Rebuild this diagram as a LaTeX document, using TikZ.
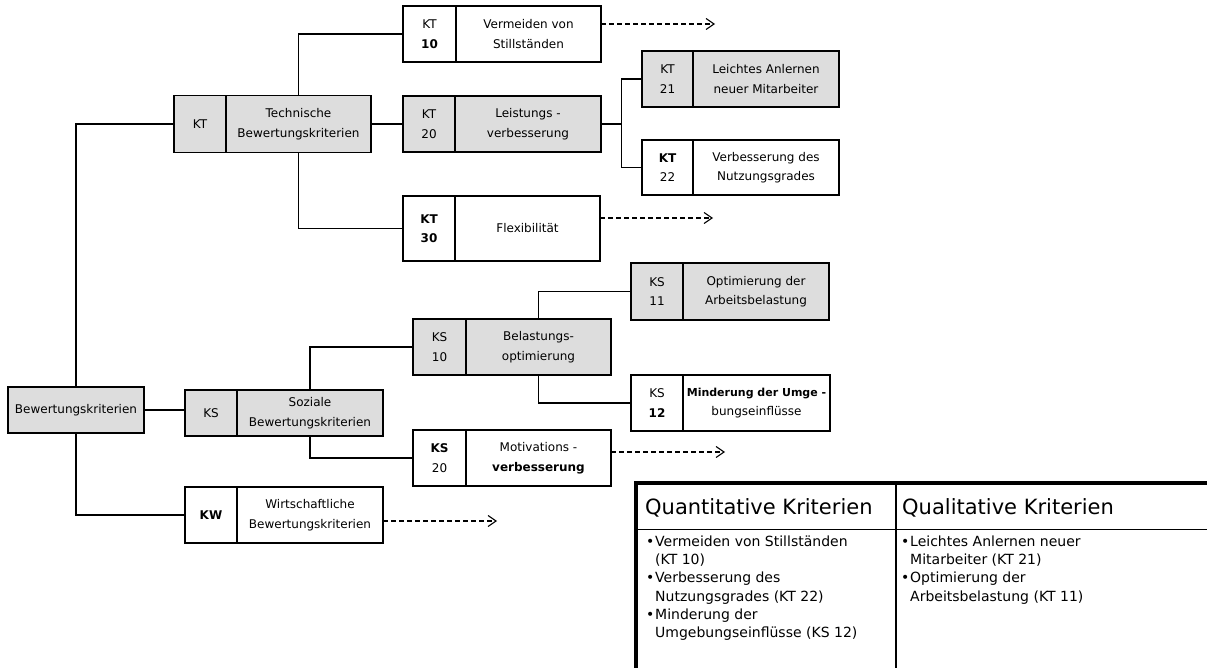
\documentclass[tikz,border=0pt]{standalone}
\usepackage{fontspec}
\setmainfont{DejaVu Sans}
\usepackage{tikz}
\usetikzlibrary{arrows.meta,positioning,calc}
\definecolor{BoxGray}{RGB}{221,221,221}

\begin{document}
\begin{tikzpicture}[
  x=1pt, y=-1pt,
  cell/.style={
    draw,
    line width=1.3pt,
    outer sep=0pt,
    inner sep=1pt,
    minimum height=56pt,
    align=center,
    font=\fontsize{12}{19.5}\selectfont
  },
  idcell/.style={cell, minimum width=52pt, anchor=west},
  txtcell/.style={cell, minimum width=146pt},
  graybox/.style={fill=BoxGray},
  link/.style={line width=1.1pt},
  fwd/.style={-{Straight Barb[length=8pt,width=11pt]}, dash pattern=on 5pt off 3pt, line width=1.1pt},
  hdr/.style={font=\fontsize{21}{25}\selectfont, inner sep=0pt, anchor=base west},
  body/.style={font=\fontsize{14}{18.3}\selectfont, inner sep=0pt, anchor=north west, align=left},
  tabrule/.style={line width=1.5pt}
]
\useasboundingbox (0,0) rectangle (1207,668);

% Root
\node[cell, graybox, minimum width=136pt, minimum height=46pt, anchor=west] (root) at (8,410) {Bewertungskriterien};

% Main groups
\node[idcell, graybox, minimum height=57pt] (kt) at (174,124) {KT};
\node[txtcell, graybox, minimum height=57pt, minimum width=145pt, right=0pt of kt] (ktt) {Technische\\Bewertungskriterien};

\node[idcell, graybox, minimum height=46pt] (ks) at (185,413) {KS};
\node[txtcell, graybox, minimum height=46pt, right=0pt of ks] (kst) {Soziale\\Bewertungskriterien};

\node[idcell] (kw) at (185,515) {\textbf{KW}};
\node[txtcell, right=0pt of kw] (kwt) {Wirtschaftliche\\Bewertungskriterien};

% Technical criteria
\node[idcell, minimum width=53pt] (kt10) at (403,34) {KT\\\textbf{10}};
\node[txtcell, minimum width=145pt, right=0pt of kt10] (kt10t) {Vermeiden von\\Stillständen};

\node[idcell, graybox] (kt20) at (403,124) {KT\\20};
\node[txtcell, graybox, right=0pt of kt20] (kt20t) {Leistungs -\\verbesserung};

\node[idcell, minimum height=65pt] (kt30) at (403,228.5) {\textbf{KT}\\\textbf{30}};
\node[txtcell, minimum height=65pt, minimum width=145pt, right=0pt of kt30] (kt30t) {Flexibilität};

\node[idcell, graybox, minimum width=51pt] (kt21) at (642,79) {KT\\21};
\node[txtcell, graybox, right=0pt of kt21] (kt21t) {Leichtes Anlernen\\neuer Mitarbeiter};

\node[idcell, minimum width=51pt, minimum height=55pt] (kt22) at (642,167.5) {\textbf{KT}\\22};
\node[txtcell, minimum height=55pt, right=0pt of kt22] (kt22t) {Verbesserung des\\Nutzungsgrades};

% Social criteria
\node[idcell, graybox, minimum width=53pt] (ks10) at (413,347) {KS\\10};
\node[txtcell, graybox, minimum width=145pt, right=0pt of ks10] (ks10t) {Belastungs-\\optimierung};

\node[idcell, minimum width=53pt] (ks20) at (413,458) {\textbf{KS}\\20};
\node[txtcell, minimum width=145pt, right=0pt of ks20] (ks20t) {Motivations -\\\textbf{verbesserung}};

\node[idcell, graybox, minimum height=57pt] (ks11) at (631,291.5) {KS\\11};
\node[txtcell, graybox, minimum height=57pt, right=0pt of ks11] (ks11t) {Optimierung der\\Arbeitsbelastung};

\node[idcell] (ks12) at (631,403) {KS\\\textbf{12}};
\node[txtcell, minimum width=147pt, right=0pt of ks12] (ks12t) {{\fontsize{11}{19.5}\selectfont\textbf{Minderung der Umge -}}\\bungseinflüsse};

% Connectors
\draw[link] (root.north) |- (kt.west);
\draw[link] (root.south) |- (kw.west);
\draw[link] (root.east) -- (ks.west |- root.east);

\draw[link] (ktt.north) |- (kt10.west);
\draw[link] (ktt.east) -- (kt20.west);
\draw[link] (ktt.south) |- (kt30.west);

\coordinate (j20) at ($(kt20t.east)!.5!(kt21.west |- kt20t.east)$);
\draw[link] (kt20t.east) -- (j20) |- (kt21.west);
\draw[link] (j20) |- (kt22.west);

\draw[link] (kst.north) |- (ks10.west);
\draw[link] (kst.south) |- (ks20.west);
\draw[link] (ks10t.north) |- (ks11.west);
\draw[link] (ks10t.south) |- (ks12.west);

% Continuation arrows
\coordinate (to10) at (715,24);
\coordinate (to30) at (713,218);
\coordinate (to20s) at (725,452);
\coordinate (tokw) at (497,521);
\draw[fwd] (kt10t.east |- to10) -- (to10);
\draw[fwd] (kt30t.east |- to30) -- (to30);
\draw[fwd] (ks20t.east |- to20s) -- (to20s);
\draw[fwd] (kwt.east |- tokw) -- (tokw);

% Table
\draw[line width=3.5pt, line join=miter] (636,668) -- (636,483) -- (1207,483);
\draw[tabrule] (636,529.5) -- (1207,529.5);
\draw[tabrule] (896,483) -- (896,668);

\node[hdr] (quanthd) at (645,514) {Quantitative Kriterien};
\node[hdr] (qualhd) at (902,514) {Qualitative Kriterien};

\node[body] (quantlist) at (646,535.5) {%
  \makebox[9pt][l]{\textbullet}Vermeiden von Stillständen\\
  \hspace*{9pt}(KT 10)\\
  \makebox[9pt][l]{\textbullet}Verbesserung des\\
  \hspace*{9pt}Nutzungsgrades (KT 22)\\
  \makebox[9pt][l]{\textbullet}Minderung der\\
  \hspace*{9pt}Umgebungseinflüsse (KS 12)};
\node[body] (quallist) at (901,535.5) {%
  \makebox[9pt][l]{\textbullet}Leichtes Anlernen neuer\\
  \hspace*{9pt}Mitarbeiter (KT 21)\\
  \makebox[9pt][l]{\textbullet}Optimierung der\\
  \hspace*{9pt}Arbeitsbelastung (KT 11)};
\end{tikzpicture}
\end{document}
